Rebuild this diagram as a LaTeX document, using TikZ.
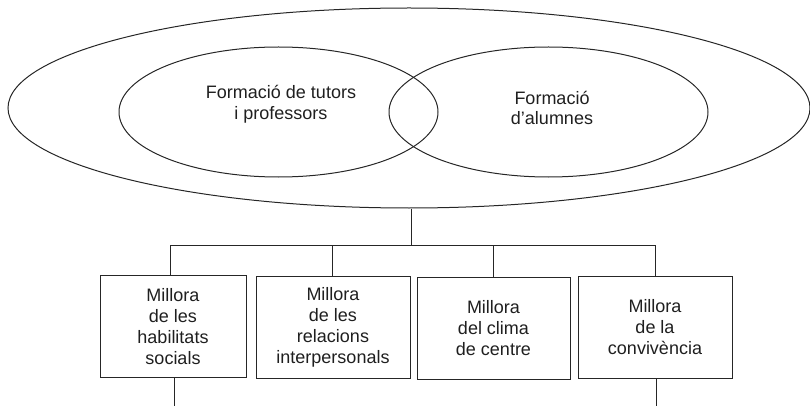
\documentclass[tikz,border=0pt]{standalone}
\usepackage{fontspec}
\setmainfont{Liberation Sans}
\usetikzlibrary{shapes.geometric}
\begin{document}
\begin{tikzpicture}[x=1pt,y=-1pt,
  ln/.style={draw=black!85, line width=1pt},
  ell/.style={ln, ellipse, inner sep=0pt},
  lbl/.style={align=center, text=black!88, font=\fontsize{18}{20.5}\selectfont, inner sep=0pt},
  box/.style={ln, rectangle, minimum height=102pt, inner sep=0pt, align=center, text=black!88, font=\fontsize{18}{21}\selectfont}]
\useasboundingbox (0,0) rectangle (810,406);
% ellipses
\node[ell, minimum width=802pt, minimum height=200pt] (outer) at (409,108) {};
\node[ell, minimum width=319pt, minimum height=130pt] (left) at (278.5,112) {};
\node[ell, minimum width=319pt, minimum height=130pt] (right) at (548.5,112) {};
\node[lbl] (ltxt) at (281,104) {Formació de tutors\\i professors};
\node[lbl] (rtxt) at (552,108) {Formació\\d’alumnes};
% boxes
\node[box, minimum width=146pt] (b1) at (173,326.5) {Millora\\de les\\habilitats\\socials};
\node[box, minimum width=154pt] (b2) at (333,327.5) {Millora\\de les\\relacions\\interpersonals};
\node[box, minimum width=153pt] (b3) at (493.5,328.5) {Millora\\del clima\\de centre};
\node[box, minimum width=154pt] (b4) at (655,327.5) {Millora\\de la\\convivència};
% connectors
\coordinate (bar) at (411,245);
\coordinate (d1) at (170,245);
\coordinate (d2) at (332,245);
\coordinate (d3) at (493,245);
\coordinate (d4) at (655,245);
\coordinate (e1) at (174,406);
\coordinate (e4) at (656,406);
\draw[ln] (outer.south -| bar) -- (bar);
\draw[ln] (d1) -- (d4);
\draw[ln] (d1) -- (d1 |- b1.north);
\draw[ln] (d2) -- (d2 |- b2.north);
\draw[ln] (d3) -- (d3 |- b3.north);
\draw[ln] (d4) -- (d4 |- b4.north);
\draw[ln] (e1 |- b1.south) -- (e1);
\draw[ln] (e4 |- b4.south) -- (e4);
\end{tikzpicture}
\end{document}
